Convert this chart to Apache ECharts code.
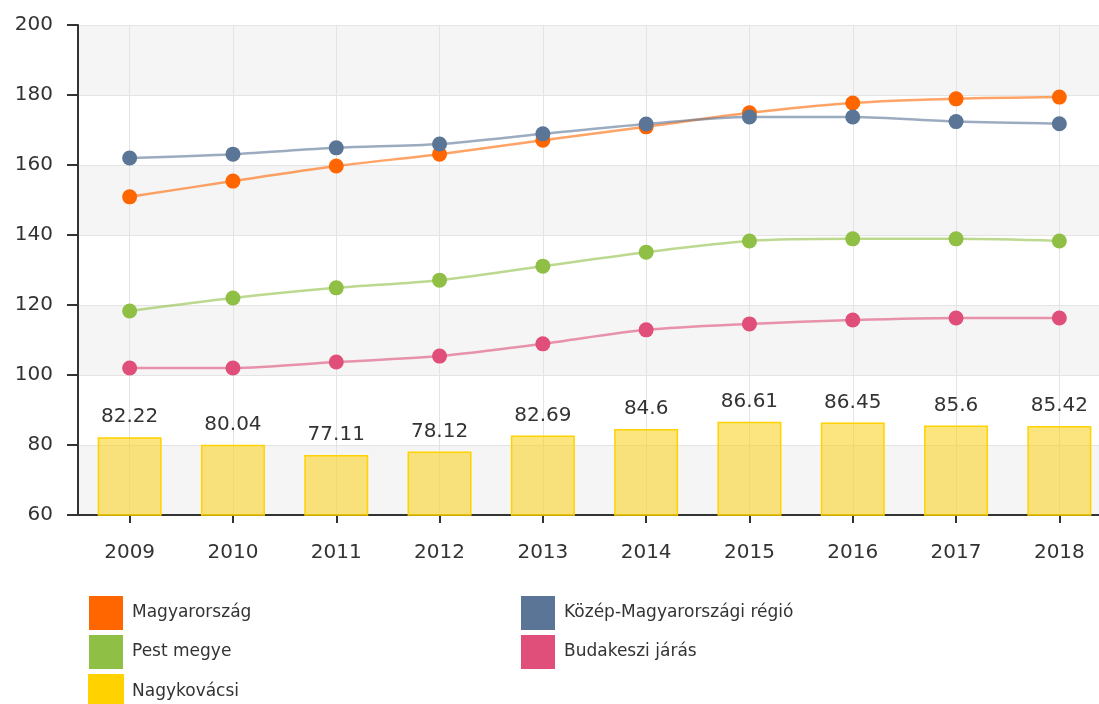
<!DOCTYPE html>
<html>
<head>
<meta charset="utf-8">
<script src="https://cdn.jsdelivr.net/npm/echarts@6/dist/echarts.min.js"></script>
<style>
    html, body {margin: 0; padding: 0; background: #fff;}
    #chartBox {width: 1099px; height: 704px; overflow: hidden;}
</style>
</head>
<body>
<div id="chartBox"></div>
<script>
// évek
let years = ['2009', '2010', '2011', '2012', '2013', '2014', '2015', '2016', '2017', '2018'];
// vonalak
let magyarorszag = [150.9, 155.4, 159.7, 163.1, 167.1, 170.9, 174.9, 177.7, 178.9, 179.4];
let kozepMagyarorszag = [162.0, 163.1, 164.9, 166.0, 168.9, 171.7, 173.7, 173.7, 172.4, 171.8];
let pestMegye = [118.3, 122.0, 124.9, 127.1, 131.1, 135.1, 138.3, 138.9, 138.9, 138.3];
let budakeszi = [102.0, 102.0, 103.7, 105.4, 108.9, 112.9, 114.6, 115.7, 116.3, 116.3];
// oszlopok
let nagykovacsi = [82.22, 80.04, 77.11, 78.12, 82.69, 84.6, 86.61, 86.45, 85.6, 85.42];

let fontFamily = '"DejaVu Sans", Verdana, sans-serif';

function lineSeries(name, data, color) {
    return {
        name: name, type: 'line', data: data, smooth: 0.3,
        symbol: 'circle', symbolSize: 15, z: 3,
        itemStyle: {color: color},
        lineStyle: {color: color, width: 2.5, opacity: 0.6}
    };
}

let chartBox = echarts.init(document.getElementById('chartBox'));
let option = {
    animation: false,
    // a rács jobb széle kilóg a vászonból, mint az eredetin
    grid: {left: 78, top: 25, height: 490, width: 1033, outerBoundsMode: 'none', containLabel: false},
    legend: [{
        orient: 'vertical', left: 83, top: 591, height: 130, itemGap: 5,
        itemWidth: 34, itemHeight: 34, icon: 'rect',
        textStyle: {color: '#333', fontSize: 17, fontFamily: fontFamily, padding: [0, 0, 0, 4]},
        data: ['Magyarország', 'Pest megye', {name: 'Nagykovácsi', itemStyle: {color: '#ffd200'}}]
    }, {
        orient: 'vertical', left: 516, top: 591, height: 130, itemGap: 5,
        itemWidth: 34, itemHeight: 34, icon: 'rect',
        textStyle: {color: '#333', fontSize: 17, fontFamily: fontFamily, padding: [0, 0, 0, 4]},
        data: ['Közép-Magyarországi régió', 'Budakeszi járás']
    }],
    xAxis: [{
        type: 'category', data: years, boundaryGap: true,
        axisLine: {show: true, lineStyle: {color: '#333', width: 2}},
        axisTick: {show: true, alignWithLabel: true, length: 8, lineStyle: {color: '#333', width: 2}},
        axisLabel: {color: '#333', fontSize: 20, fontFamily: fontFamily, margin: 28},
        splitLine: {show: true, alignWithLabel: true, lineStyle: {color: '#e4e4e4', width: 1}}
    }],
    yAxis: [{
        type: 'value', min: 60, max: 200, interval: 20,
        axisLine: {show: true, lineStyle: {color: '#333', width: 2}},
        axisTick: {show: true, length: 11, lineStyle: {color: '#333', width: 2}},
        axisLabel: {color: '#333', fontSize: 20, fontFamily: fontFamily, margin: 25},
        splitLine: {show: true, lineStyle: {color: '#e4e4e4', width: 1}},
        splitArea: {show: true, areaStyle: {color: ['#f5f5f5', '#ffffff']}}
    }],
    series: [
        lineSeries('Magyarország', magyarorszag, '#ff6600'),
        lineSeries('Közép-Magyarországi régió', kozepMagyarorszag, '#5a7596'),
        lineSeries('Pest megye', pestMegye, '#8fbf44'),
        lineSeries('Budakeszi járás', budakeszi, '#e04f7a'),
        {
            name: 'Nagykovácsi', type: 'bar', data: nagykovacsi, barWidth: 64, z: 2,
            itemStyle: {color: 'rgba(250, 208, 20, 0.55)', borderColor: '#ffd200', borderWidth: 1.5},
            label: {show: true, position: 'top', distance: 10, color: '#333', fontSize: 20, fontFamily: fontFamily}
        }
    ]
};
chartBox.setOption(option, true);
</script>
</body>
</html>
